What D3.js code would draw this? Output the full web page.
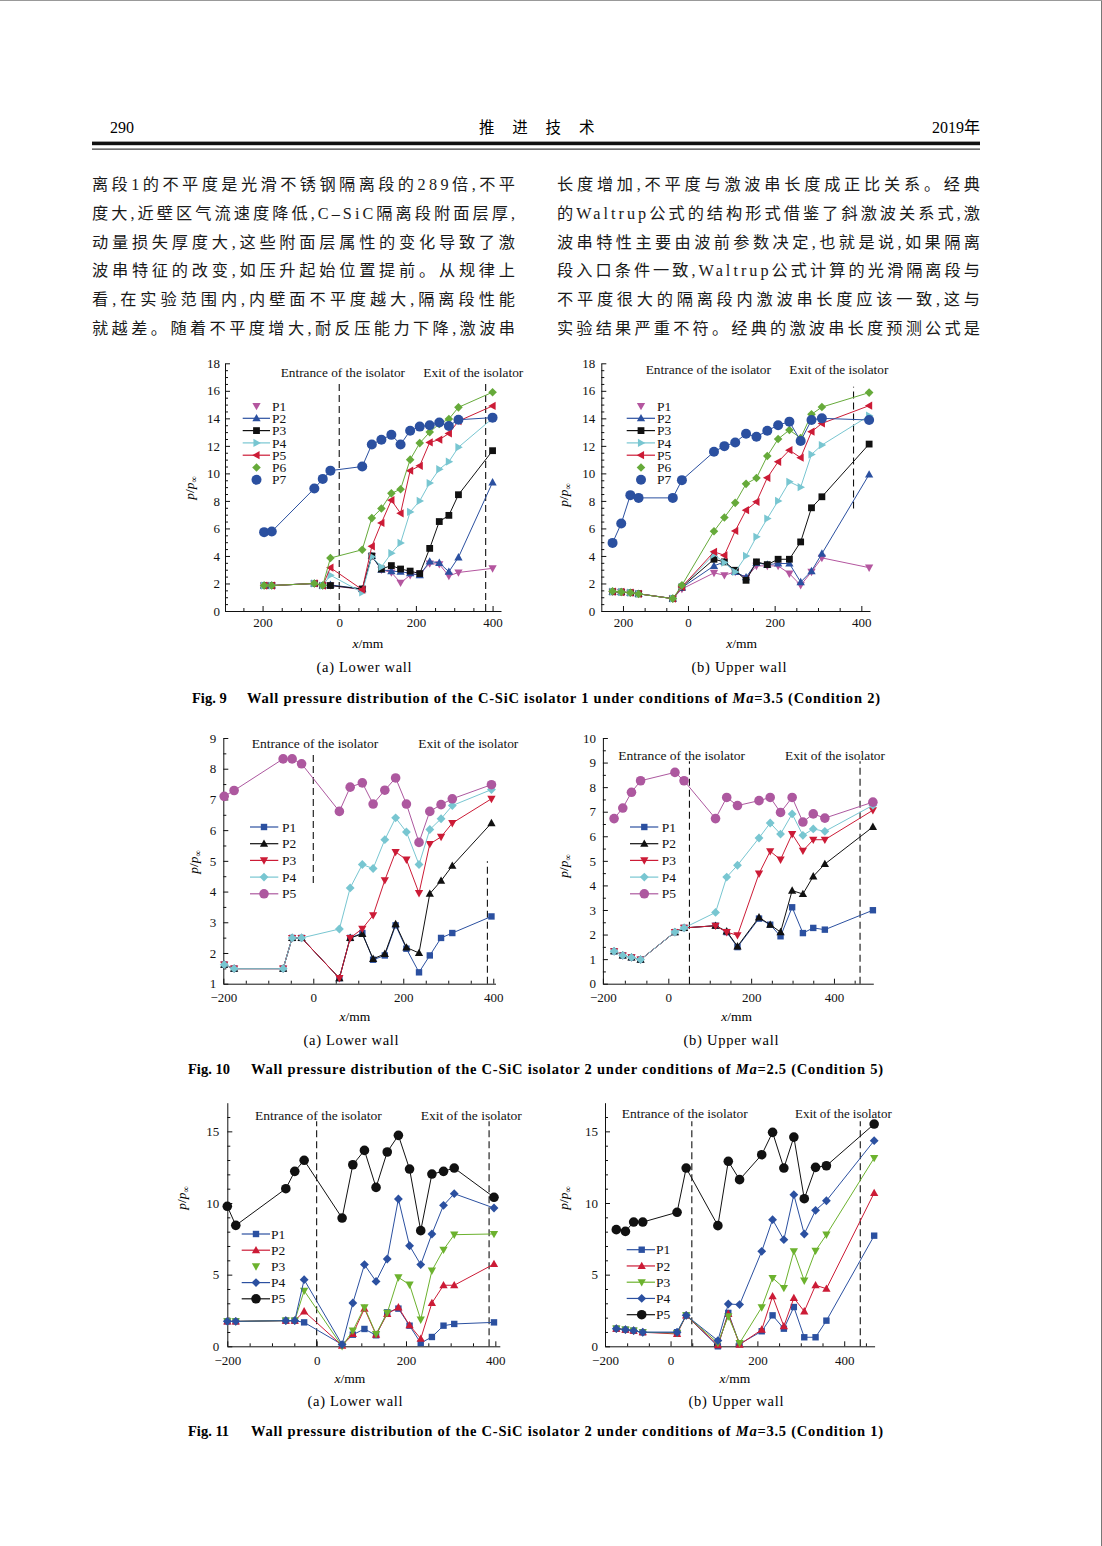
<!DOCTYPE html>
<html><head><meta charset="utf-8">
<script src="https://cdn.jsdelivr.net/npm/d3@7"></script>
<style>body{margin:0;background:#fff}svg{display:block}</style>
</head><body>
<svg id="page" width="1102" height="1546"></svg>
<script>
// ---------------- DATA ----------------
const headerLeft = "290", headerMid = ["推","进","技","术"], headerRight = "2019年";
const leftLines = [
 "离段1的不平度是光滑不锈钢隔离段的289倍,不平",
 "度大,近壁区气流速度降低,C–SiC隔离段附面层厚,",
 "动量损失厚度大,这些附面层属性的变化导致了激",
 "波串特征的改变,如压升起始位置提前。从规律上",
 "看,在实验范围内,内壁面不平度越大,隔离段性能",
 "就越差。随着不平度增大,耐反压能力下降,激波串"];
const rightLines = [
 "长度增加,不平度与激波串长度成正比关系。经典",
 "的Waltrup公式的结构形式借鉴了斜激波关系式,激",
 "波串特性主要由波前参数决定,也就是说,如果隔离",
 "段入口条件一致,Waltrup公式计算的光滑隔离段与",
 "不平度很大的隔离段内激波串长度应该一致,这与",
 "实验结果严重不符。经典的激波串长度预测公式是"];
const captionLabels = ["Fig. 9","Fig. 10","Fig. 11"];
const captionBodies = [
 ["Wall pressure distribution of the C-SiC isolator 1 under conditions of ","Ma","=3.5 (Condition 2)"],
 ["Wall pressure distribution of the C-SiC isolator 2 under conditions of ","Ma","=2.5 (Condition 5)"],
 ["Wall pressure distribution of the C-SiC isolator 2 under conditions of ","Ma","=3.5 (Condition 1)"]];
const seriesNames7 = ["P1","P2","P3","P4","P5","P6","P7"];
const seriesNames5 = ["P1","P2","P3","P4","P5"];
const entranceText = "Entrance of the isolator", exitText = "Exit of the isolator";

// Fig 9 (a) lower wall
const fig9aX  = [-196,-176,-65,-43,-23,60,85,110,136,160,185,210,236,261,286,311,400];
const fig9aP1 = [1.85,1.85,2.0,1.85,1.85,1.55,4.0,3.0,2.8,2.05,2.6,2.7,3.45,3.4,2.55,2.8,3.1];
const fig9aP2 = [1.85,1.85,2.0,1.85,1.9,1.6,4.0,3.0,2.9,2.85,2.75,2.6,3.6,3.5,2.85,3.9,9.35];
const fig9aP3 = [1.85,1.85,2.0,1.85,1.85,1.6,4.0,3.05,3.3,3.05,2.9,2.72,4.55,6.5,6.95,8.45,11.65];
const fig9aP4 = [1.85,1.85,2.0,1.85,2.6,1.35,3.95,3.2,4.2,4.95,7.2,8.0,9.3,10.3,10.85,11.9,14.0];
const fig9aP5 = [1.85,1.85,2.0,1.85,3.15,1.55,4.7,6.4,8.05,7.1,10.2,10.55,12.25,12.45,12.9,13.8,14.9];
const fig9aP6 = [1.85,1.85,2.0,1.85,3.85,4.45,6.75,7.45,8.55,8.85,11.0,12.2,13.0,13.6,13.95,14.8,15.9];
const fig9aP7 = [5.73,5.78,8.9,9.6,10.2,10.5,12.1,12.45,12.8,12.1,13.1,13.4,13.5,13.7,13.45,13.9,14.05];
// Fig 9 (b) upper wall
const fig9bX  = [-174,-154,-133,-114,-35,-14,60,84,109,134,158,183,208,234,260,285,309,418];
const fig9bP1 = [1.4,1.38,1.33,1.25,0.9,1.6,2.77,2.6,2.84,2.4,3.28,3.28,3.28,2.72,1.87,2.84,3.86,3.15];
const fig9bP2 = [1.4,1.38,1.33,1.25,0.9,1.7,3.28,3.57,2.84,2.45,3.5,3.37,3.45,3.45,2.1,2.9,4.17,9.92];
const fig9bP3 = [1.4,1.38,1.33,1.25,0.9,1.75,3.76,3.57,2.96,2.23,3.57,3.37,3.76,3.76,5.02,7.5,8.3,12.13];
const fig9bP4 = [1.4,1.38,1.33,1.25,0.9,1.75,4.1,3.52,2.84,4.0,5.39,6.72,8.0,9.39,9.0,11.38,12.06,14.19];
const fig9bP5 = [1.4,1.38,1.33,1.25,0.9,1.75,4.3,4.05,5.82,7.33,7.93,9.68,10.84,11.69,11.14,13.03,13.63,14.92];
const fig9bP6 = [1.43,1.38,1.33,1.24,0.9,1.87,5.8,6.8,7.86,9.24,9.66,11.26,12.5,13.15,12.57,14.29,14.82,15.87];
const fig9bP7 = [4.95,6.36,8.42,8.22,8.22,9.51,11.57,11.98,12.25,12.88,12.66,13.1,13.5,13.76,12.35,13.88,14.0,13.88];
// Fig 10 (a)
const fig10aX  = [-198,-176,-67,-47,-26,58,82,109,133,159,183,207,235,259,284,309,396];
const fig10aP1 = [1.62,1.49,1.49,2.49,2.49,1.18,2.49,2.65,1.78,1.92,2.9,2.14,1.37,1.92,2.49,2.65,3.19];
const fig10aP2 = [1.62,1.49,1.49,2.49,2.49,1.18,2.49,2.62,1.81,1.97,2.94,2.18,2.0,3.93,4.35,4.84,6.23];
const fig10aP3 = [1.62,1.49,1.49,2.49,2.49,1.18,2.49,2.79,3.23,4.37,5.29,5.04,3.95,5.55,5.78,6.23,7.02];
const fig10aP4 = [1.62,1.49,1.49,2.49,2.49,2.78,4.12,4.88,4.75,5.69,6.4,5.94,4.88,6.02,6.37,6.8,7.32];
const fig10aP5 = [7.1,7.29,8.32,8.32,8.16,6.61,7.4,7.54,6.85,7.3,7.7,6.85,5.6,6.61,6.83,7.02,7.48];
// Fig 10 (b)
const fig10bX  = [-131,-110,-89,-67,16,38,114,141,167,219,246,271,299,325,350,378,494];
const fig10bP1 = [1.32,1.15,1.07,0.98,2.1,2.27,2.36,2.1,1.49,2.65,2.4,1.93,3.11,2.06,2.27,2.2,2.99];
const fig10bP2 = [1.32,1.15,1.07,0.98,2.1,2.27,2.36,2.13,1.52,2.7,2.4,2.1,3.79,3.65,4.37,4.87,6.38];
const fig10bP3 = [1.32,1.15,1.07,0.98,2.1,2.27,2.36,2.1,1.97,4.48,5.39,5.05,6.09,5.41,5.86,5.86,7.06];
const fig10bP4 = [1.32,1.15,1.07,0.98,2.1,2.27,2.9,4.34,4.82,5.93,6.54,6.09,6.91,6.04,6.3,6.2,7.26];
const fig10bP5 = [6.72,7.15,7.79,8.26,8.6,8.26,6.72,7.58,7.25,7.45,7.58,6.97,7.58,6.58,6.91,6.74,7.39];
// Fig 11 (a)
const fig11aX  = [-200,-181,-69,-49,-28,57,81,107,133,158,183,208,233,258,284,308,397];
const fig11aP1 = [1.74,1.74,1.79,1.79,1.67,0.12,0.81,1.21,0.77,2.37,2.63,1.44,0.23,0.65,1.44,1.56,1.67];
const fig11aP2 = [1.74,1.74,1.79,1.79,2.44,0.05,0.86,2.63,0.81,2.26,2.72,1.47,0.53,3.02,4.26,4.26,5.74];
const fig11aP3 = [1.74,1.74,1.79,1.79,3.88,0.0,1.09,2.72,0.86,2.33,4.81,4.3,1.86,5.28,6.74,7.79,7.84];
const fig11aP4 = [1.74,1.74,1.79,1.79,4.65,0.12,3.02,5.7,4.53,6.09,10.28,7.02,5.7,7.84,9.84,10.65,9.65];
const fig11aP5 = [9.77,8.44,11.0,12.21,12.98,8.95,12.67,13.67,11.09,13.56,14.72,12.37,8.07,12.02,12.21,12.44,10.4];
// Fig 11 (b)
const fig11bX  = [-125,-104,-85,-64,15,36,109,133,159,210,235,261,284,308,334,359,469];
const fig11bP1 = [1.23,1.16,1.09,0.98,0.98,2.16,0.0,2.33,0.16,1.05,2.16,1.23,2.74,0.63,0.63,1.79,7.72];
const fig11bP2 = [1.23,1.16,1.09,0.98,0.86,2.16,0.07,2.26,0.12,1.16,3.49,1.4,3.37,2.44,4.26,4.02,10.7];
const fig11bP3 = [1.23,1.16,1.09,0.98,0.93,2.16,0.23,2.09,0.23,2.72,4.77,4.07,6.63,4.58,6.67,7.79,13.14];
const fig11bP4 = [1.23,1.16,1.09,0.98,0.98,2.16,0.4,2.95,2.91,6.63,8.84,7.44,10.58,7.84,9.49,10.16,14.35];
const fig11bP5 = [8.14,8.02,8.67,8.67,9.35,12.44,8.42,12.91,11.63,13.37,14.93,12.44,14.6,10.3,12.49,12.6,15.51];

// tick labels
const xTickLabelsA = ["200","0","200","400"];
const xTickLabelsB = ["−200","0","200","400"];

// ---------------- STYLE ----------------
const SERIF = "'Liberation Serif','Times New Roman',serif";
const CJK = "'Liberation Serif','Noto Sans CJK SC',serif";
const C = {mag:"#b4569f", blue:"#2b50a0", black:"#111111", cyan:"#78c6d1", red:"#cc1b36", green:"#66aa3a", green2:"#6cb22e"};

const svg = d3.select('#page');
svg.append('rect').attr('width',1102).attr('height',1546).attr('fill','#fff');
svg.append('line').attr('x1',1101.5).attr('x2',1101.5).attr('y1',0).attr('y2',1546).attr('stroke','#777');
svg.append('line').attr('x1',0).attr('x2',1102).attr('y1',0.5).attr('y2',0.5).attr('stroke','#999');

// header
svg.append('text').attr('x',110).attr('y',133).attr('font-family',SERIF).attr('font-size',16).text(headerLeft);
svg.selectAll('.hm').data(headerMid).join('text').attr('x',(d,i)=>479+i*33.3).attr('y',133)
  .attr('font-family',CJK).attr('font-size',15.5).text(d=>d);
svg.append('text').attr('x',980).attr('y',133).attr('text-anchor','end').attr('font-family',CJK).attr('font-size',16).text(headerRight);
svg.append('rect').attr('x',92).attr('y',141.6).attr('width',888).attr('height',3.6).attr('fill','#111');
svg.append('rect').attr('x',92).attr('y',148.6).attr('width',888).attr('height',1).attr('fill','#111');

// body text
function para(lines,x0){
  svg.selectAll(null).data(lines).join('text')
    .attr('x',x0).attr('y',(d,i)=>190+i*28.8)
    .attr('font-family',CJK).attr('font-size',16.2).attr('fill','#1a1a1a')
    .attr('textLength',423).attr('lengthAdjust','spacing').text(d=>d);
}
para(leftLines,92); para(rightLines,557);

// captions
const capPos = [{lx:192,bx:247,ex:880,y:703},{lx:188,bx:251,ex:883,y:1074},{lx:188,bx:251,ex:883,y:1436}];
capPos.forEach((p,i)=>{
  svg.append('text').attr('x',p.lx).attr('y',p.y).attr('font-family',SERIF).attr('font-weight','bold').attr('font-size',14.5).text(captionLabels[i]);
  const t = svg.append('text').attr('x',p.bx).attr('y',p.y).attr('font-family',SERIF).attr('font-weight','bold').attr('font-size',14.5)
    .attr('textLength',p.ex-p.bx).attr('lengthAdjust','spacing');
  t.append('tspan').text(captionBodies[i][0]);
  t.append('tspan').attr('font-style','italic').text(captionBodies[i][1]);
  t.append('tspan').text(captionBodies[i][2]);
});

// markers
function shapePath(shape, k){
  switch(shape){
    case 'square': return `M${-k},${-k}H${k}V${k}H${-k}Z`;
    case 'diamond': { const d=k*1.3; return `M0,${-d}L${d},0L0,${d}L${-d},0Z`; }
    case 'up': return `M0,${-k*1.2}L${k*1.15},${k*0.85}L${-k*1.15},${k*0.85}Z`;
    case 'down': return `M0,${k*1.2}L${k*1.15},${-k*0.85}L${-k*1.15},${-k*0.85}Z`;
    case 'left': return `M${-k*1.2},0L${k*0.85},${-k*1.15}L${k*0.85},${k*1.15}Z`;
    case 'right': return `M${k*1.2},0L${-k*0.85},${-k*1.15}L${-k*0.85},${k*1.15}Z`;
    default: return d3.symbol(d3.symbolCircle, Math.PI*k*k)();
  }
}
function range(a,b,s,skip){ const r=[]; for(let v=a; v<=b+1e-9; v+=s){ const vv=+v.toFixed(3); if(!skip||!skip.includes(vv)) r.push(vv);} return r; }

function drawChart(c){
  const g = svg.append('g');
  const x = d3.scaleLinear().domain(c.xDomain).range(c.xRange);
  const y = d3.scaleLinear().domain(c.yDomain).range(c.yRange);
  const y0 = c.yRange[0], x0 = c.xRange[0];
  // minor ticks
  g.append('g').attr('transform',`translate(0,${y0})`)
    .call(d3.axisBottom(x).tickValues(c.xMinor).tickSize(-3).tickSizeOuter(0).tickFormat(''))
    .call(s=>s.select('.domain').remove());
  g.append('g').attr('transform',`translate(${x0},0)`)
    .call(d3.axisLeft(y).tickValues(c.yMinor).tickSize(-3).tickSizeOuter(0).tickFormat(''))
    .call(s=>s.select('.domain').remove());
  // major axes
  const xa = g.append('g').attr('transform',`translate(0,${y0})`)
    .call(d3.axisBottom(x).tickValues(c.xMajor).tickSize(-5).tickSizeOuter(0).tickPadding(c.xPad)
      .tickFormat((d,i)=>c.xLabels[i]));
  const ya = g.append('g').attr('transform',`translate(${x0},0)`)
    .call(d3.axisLeft(y).tickValues(c.yMajor).tickSize(-5).tickSizeOuter(0).tickPadding(c.yPad).tickFormat(d3.format('d')));
  [xa,ya].forEach(a=>a.attr('font-family',SERIF).attr('font-size',13).selectAll('text').attr('fill','#111'));
  g.selectAll('.tick line,.domain').attr('stroke','#111');
  // dashed lines
  c.vlines.forEach(v=>{
    g.append('line').attr('x1',x(v.x)).attr('x2',x(v.x)).attr('y1',y(v.y0)).attr('y2',y(v.y1))
      .attr('stroke','#111').attr('stroke-width',1.1).attr('stroke-dasharray','7,4');
  });
  // annotations
  c.notes.forEach(n=>{
    g.append('text').attr('x',n.x).attr('y',n.y).attr('font-family',SERIF).attr('font-size',13)
      .attr('textLength',n.w).attr('lengthAdjust','spacingAndGlyphs').attr('fill','#111').text(n.t);
  });
  // series
  const line = d3.line().x(d=>x(d[0])).y(d=>y(d[1]));
  c.series.forEach(s=>{
    const pts = s.x.map((xv,i)=>[xv,s.y[i]]);
    g.append('path').attr('d',line(pts)).attr('fill','none').attr('stroke',s.color).attr('stroke-width',1);
    g.selectAll(null).data(pts).join('path').attr('d',shapePath(s.shape,s.size))
      .attr('transform',d=>`translate(${x(d[0])},${y(d[1])})`).attr('fill',s.color);
  });
  // legend
  const L = c.legend;
  c.series.forEach((s,i)=>{
    const ly = L.y0 + i*L.dy;
    if(s.legendLine) g.append('line').attr('x1',L.lx0).attr('x2',L.lx1).attr('y1',ly).attr('y2',ly).attr('stroke',s.color).attr('stroke-width',1.2);
    g.append('path').attr('d',shapePath(s.shape,s.size)).attr('transform',`translate(${L.mx},${ly})`).attr('fill',s.color);
    g.append('text').attr('x',L.tx).attr('y',ly+4.6).attr('font-family',SERIF).attr('font-size',13.5).attr('fill','#111').text(s.name);
  });
  // axis titles
  const xt = g.append('text').attr('x',c.xTitle.x).attr('y',c.xTitle.y).attr('text-anchor','middle').attr('font-family',SERIF).attr('font-size',13.5);
  xt.append('tspan').attr('font-style','italic').text('x');
  xt.append('tspan').text('/mm');
  const yt = g.append('text').attr('transform',`translate(${c.yTitle.x},${c.yTitle.y}) rotate(-90)`).attr('text-anchor','middle')
    .attr('font-family',SERIF).attr('font-size',13.5);
  yt.append('tspan').attr('font-style','italic').text('p');
  yt.append('tspan').text('/');
  yt.append('tspan').attr('font-style','italic').text('p');
  yt.append('tspan').attr('font-size',9).attr('dy',3).text('∞');
  g.append('text').attr('x',c.sub.x).attr('y',c.sub.y).attr('text-anchor','middle').attr('font-family',SERIF).attr('font-size',14.5)
    .attr('textLength',95).attr('lengthAdjust','spacing').text(c.sub.t);
}

function mk(names, xs, ys, styles){
  return names.map((n,i)=>Object.assign({name:n, x:xs, y:ys[i]}, styles[i]));
}
const st9 = [
  {color:C.mag, shape:'down', size:3.6, legendLine:false},
  {color:C.blue, shape:'up', size:3.6, legendLine:true},
  {color:C.black, shape:'square', size:3.4, legendLine:true},
  {color:C.cyan, shape:'right', size:3.6, legendLine:true},
  {color:C.red, shape:'left', size:3.6, legendLine:true},
  {color:C.green, shape:'diamond', size:3.3, legendLine:false},
  {color:C.blue, shape:'circle', size:5, legendLine:false}];
const st10 = [
  {color:C.blue, shape:'square', size:3.2, legendLine:true},
  {color:C.black, shape:'up', size:3.6, legendLine:true},
  {color:C.red, shape:'down', size:3.6, legendLine:true},
  {color:C.cyan, shape:'diamond', size:3.4, legendLine:true},
  {color:"#ad589f", shape:'circle', size:4.8, legendLine:true}];
const st11a = [
  {color:C.blue, shape:'square', size:3.2, legendLine:true},
  {color:C.red, shape:'up', size:3.6, legendLine:true},
  {color:C.green2, shape:'down', size:3.6, legendLine:false},
  {color:C.blue, shape:'diamond', size:3.4, legendLine:true},
  {color:C.black, shape:'circle', size:4.8, legendLine:true}];
const st11b = st11a.map((s,i)=>Object.assign({},s,{legendLine:true}));

drawChart({
  xDomain:[-298,422], xRange:[225,501], yDomain:[0,18], yRange:[611,363.3],
  xMajor:[-200,0,200,400], xLabels:xTickLabelsA, xMinor:[-250,-150,-100,-50,50,100,150,250,300,350], xPad:7,
  yMajor:range(0,18,2), yMinor:range(0.5,17.5,0.5).filter(v=>v%2!==0), yPad:5,
  vlines:[{x:0,y0:0,y1:16.5},{x:382,y0:0,y1:16.5}],
  notes:[{t:entranceText,x:280.7,y:377,w:124.3},{t:exitText,x:423.3,y:377,w:100}],
  series:mk(seriesNames7, fig9aX, [fig9aP1,fig9aP2,fig9aP3,fig9aP4,fig9aP5,fig9aP6,fig9aP7], st9),
  legend:{lx0:242.7,lx1:270,mx:256.5,tx:272,y0:406,dy:12.3},
  xTitle:{x:368,y:648}, yTitle:{x:194,y:488}, sub:{t:"(a) Lower wall",x:364,y:672}
});
drawChart({
  xDomain:[-200,420], xRange:[601.3,870], yDomain:[0,18], yRange:[611,363.3],
  xMajor:[-150,0,200,400], xLabels:xTickLabelsA, xMinor:[-100,-50,50,100,150,250,300,350], xPad:7,
  yMajor:range(0,18,2), yMinor:range(0.5,17.5,0.5).filter(v=>v%2!==0), yPad:6,
  vlines:[{x:382,y0:7.45,y1:16.3}],
  notes:[{t:entranceText,x:645.7,y:374,w:125.3},{t:exitText,x:789.3,y:374,w:99}],
  series:mk(seriesNames7, fig9bX, [fig9bP1,fig9bP2,fig9bP3,fig9bP4,fig9bP5,fig9bP6,fig9bP7], st9),
  legend:{lx0:626.7,lx1:655,mx:641,tx:657,y0:406,dy:12.3},
  xTitle:{x:741.7,y:648}, yTitle:{x:568,y:495}, sub:{t:"(b) Upper wall",x:739,y:672}
});
drawChart({
  xDomain:[-200,405], xRange:[223.3,495.5], yDomain:[1,9], yRange:[983.7,738],
  xMajor:[-200,0,200,400], xLabels:xTickLabelsB, xMinor:[-150,-100,-50,50,100,150,250,300,350], xPad:9,
  yMajor:range(1,9,1), yMinor:range(1.5,8.5,1), yPad:7,
  vlines:[{x:0,y0:4.28,y1:8.46},{x:387,y0:1,y1:4.99}],
  notes:[{t:entranceText,x:251.7,y:748,w:126.6},{t:exitText,x:418.3,y:748,w:100}],
  series:mk(seriesNames5, fig10aX, [fig10aP1,fig10aP2,fig10aP3,fig10aP4,fig10aP5], st10),
  legend:{lx0:250,lx1:278.3,mx:264,tx:282,y0:827,dy:16.7},
  xTitle:{x:355,y:1021}, yTitle:{x:198,y:862}, sub:{t:"(a) Lower wall",x:351,y:1045}
});
drawChart({
  xDomain:[-158,495], xRange:[602.9,873.3], yDomain:[0,10], yRange:[983.7,738],
  xMajor:[-158,0,200,400], xLabels:xTickLabelsB, xMinor:[-105,-53,50,100,150,250,300,350,450], xPad:9,
  yMajor:range(0,10,1), yMinor:range(0.5,9.5,1), yPad:7,
  vlines:[{x:51,y0:0,y1:9.05},{x:463,y0:0,y1:9.05}],
  notes:[{t:entranceText,x:618.3,y:760,w:126.7},{t:exitText,x:785,y:760,w:100}],
  series:mk(seriesNames5, fig10bX, [fig10bP1,fig10bP2,fig10bP3,fig10bP4,fig10bP5], st10),
  legend:{lx0:630,lx1:658.3,mx:644.3,tx:661.7,y0:827,dy:16.7},
  xTitle:{x:736.7,y:1021}, yTitle:{x:568,y:866}, sub:{t:"(b) Upper wall",x:731,y:1045}
});
drawChart({
  xDomain:[-200,410], xRange:[227.3,499.8], yDomain:[0,17], yRange:[1346.3,1102.7],
  xMajor:[-200,0,200,400], xLabels:xTickLabelsB, xMinor:[-150,-100,-50,50,100,150,250,300,350], xPad:9,
  yMajor:[0,5,10,15], yMinor:range(1,16,1).filter(v=>v%5!==0), yPad:8,
  vlines:[{x:0,y0:0,y1:15.7},{x:386,y0:0,y1:15.7}],
  notes:[{t:entranceText,x:255,y:1120,w:126.7},{t:exitText,x:420.7,y:1120,w:101}],
  series:mk(seriesNames5, fig11aX, [fig11aP1,fig11aP2,fig11aP3,fig11aP4,fig11aP5], st11a),
  legend:{lx0:241.7,lx1:270,mx:256,tx:271,y0:1234,dy:16.2},
  xTitle:{x:350,y:1383}, yTitle:{x:186,y:1198}, sub:{t:"(a) Lower wall",x:355,y:1406}
});
drawChart({
  xDomain:[-151,470], xRange:[605,874.6], yDomain:[0,17], yRange:[1346.3,1102.7],
  xMajor:[-151,0,200,400], xLabels:xTickLabelsB, xMinor:[-100,-50,50,100,150,250,300,350,450], xPad:9,
  yMajor:[0,5,10,15], yMinor:range(1,16,1).filter(v=>v%5!==0), yPad:7,
  vlines:[{x:49,y0:0,y1:15.7},{x:437,y0:0,y1:15.7}],
  notes:[{t:entranceText,x:621.7,y:1118,w:126},{t:exitText,x:795,y:1118,w:96.7}],
  series:mk(seriesNames5, fig11bX, [fig11bP1,fig11bP2,fig11bP3,fig11bP4,fig11bP5], st11b),
  legend:{lx0:626.7,lx1:655,mx:641.7,tx:656,y0:1249.7,dy:16.25},
  xTitle:{x:735,y:1383}, yTitle:{x:568,y:1198}, sub:{t:"(b) Upper wall",x:736,y:1406}
});
</script>
</body></html>
